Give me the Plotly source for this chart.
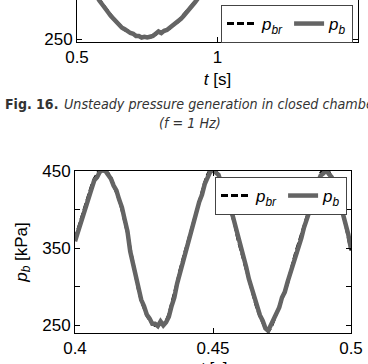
import plotly.graph_objects as go

# ---------------- data ----------------
# upper panel (f = 1 Hz), only its lower part is visible
t_top = [0.50, 0.52, 0.54, 0.56, 0.57, 0.58, 0.59, 0.60, 0.61, 0.62, 0.63, 0.64,
         0.65, 0.66, 0.67, 0.68, 0.69, 0.70, 0.71, 0.72, 0.73, 0.74, 0.75, 0.76,
         0.77, 0.78, 0.79, 0.80, 0.81, 0.82, 0.83, 0.84, 0.85, 0.86, 0.87, 0.88,
         0.89, 0.90, 0.91, 0.92, 0.93, 0.94, 0.95, 0.96, 0.98, 1.00, 1.05, 1.10,
         1.15, 1.20, 1.25, 1.30, 1.35, 1.40, 1.45, 1.50]
pb_top = [350, 337, 325, 314, 307, 301, 296, 290, 286, 281, 277, 272,
          268, 265, 263, 260, 258, 257, 254, 254, 252, 253, 252, 253,
          254, 257, 260, 258, 261, 262, 265, 267, 270, 274, 277, 281,
          285, 290, 294, 299, 304, 310, 316, 322, 337, 350, 381, 409,
          431, 445, 450, 445, 431, 409, 381, 350]
pbr_top = [351, 338, 326, 315, 308, 302, 297, 291, 287, 282, 277, 273,
           269, 266, 262, 261, 259, 256, 255, 253, 253, 252, 253, 252,
           255, 256, 258, 259, 260, 263, 264, 268, 271, 273, 278, 282,
           286, 291, 295, 300, 305, 311, 317, 323, 338, 351, 382, 410,
           432, 446, 451, 446, 432, 410, 382, 351]

# lower panel
t_low = [0.400, 0.401, 0.402, 0.403, 0.404, 0.405, 0.406, 0.407, 0.408, 0.409,
         0.410, 0.411, 0.412, 0.413, 0.414, 0.415, 0.416, 0.417, 0.418, 0.419,
         0.420, 0.421, 0.422, 0.423, 0.424, 0.425, 0.426, 0.427, 0.428, 0.429,
         0.430, 0.431, 0.432, 0.433, 0.434, 0.435, 0.436, 0.437, 0.438, 0.439,
         0.440, 0.441, 0.442, 0.443, 0.444, 0.445, 0.446, 0.447, 0.448, 0.449,
         0.450, 0.451, 0.452, 0.453, 0.454, 0.455, 0.456, 0.457, 0.458, 0.459,
         0.460, 0.461, 0.462, 0.463, 0.464, 0.465, 0.466, 0.467, 0.468, 0.469,
         0.470, 0.471, 0.472, 0.473, 0.474, 0.475, 0.476, 0.477, 0.478, 0.479,
         0.480, 0.481, 0.482, 0.483, 0.484, 0.485, 0.486, 0.487, 0.488, 0.489,
         0.490, 0.491, 0.492, 0.493, 0.494, 0.495, 0.496, 0.497, 0.498, 0.499,
         0.500]
pb_low = [359, 371, 381, 396, 404, 419, 427, 438, 442, 449,
          451, 450, 445, 440, 431, 425, 413, 403, 387, 372,
          346, 329, 310, 298, 283, 275, 264, 259, 252, 252,
          249, 255, 250, 254, 261, 275, 286, 304, 317, 334,
          342, 357, 368, 383, 395, 410, 419, 433, 441, 449,
          451, 448, 445, 434, 428, 417, 408, 394, 381, 363,
          352, 338, 326, 310, 298, 282, 275, 263, 256, 246,
          243, 250, 257, 267, 273, 286, 293, 306, 317, 332,
          342, 354, 363, 377, 387, 398, 409, 424, 434, 444,
          447, 451, 446, 442, 432, 423, 409, 397, 382, 368,
          349]
pbr_low = [362, 374, 385, 397, 409, 420, 431, 440, 447, 452,
           454, 451, 447, 441, 431, 423, 413, 400, 386, 370,
           349, 330, 310, 296, 282, 272, 263, 257, 252, 250,
           251, 252, 251, 255, 264, 277, 290, 305, 321, 335,
           347, 359, 372, 384, 398, 412, 424, 435, 445, 452,
           453, 450, 444, 436, 426, 417, 405, 393, 379, 362,
           349, 336, 323, 309, 295, 282, 271, 262, 254, 246,
           242, 247, 256, 265, 273, 284, 294, 304, 318, 333,
           345, 356, 367, 379, 391, 401, 413, 426, 438, 447,
           452, 453, 449, 441, 433, 421, 409, 395, 381, 365,
           347]

x_ticks_top = [0.5, 1.0, 1.5]
x_labels_top = ["0.5", "1", "1.5"]
y_ticks_top = [250]
y_labels_top = ["250"]
x_ticks_low = [0.4, 0.45, 0.5]
x_labels_low = ["0.4", "0.45", "0.5"]
y_ticks_low = [250, 350, 450]
y_labels_low = ["250", "350", "450"]
y_minor_low = [300, 400]

name_br = "<i>p</i><sub><i>br</i></sub>"
name_b = "<i>p</i><sub><i>b</i></sub>"

# ---------------- figure ----------------
W, H = 368, 364
def px(x):
    return x / W
def py(y):
    return 1 - y / H

FONT = "Liberation Sans, Arial, sans-serif"
CAP = "DejaVu Sans Condensed, DejaVu Sans, sans-serif"
GREY = "#646464"

fig = go.Figure()
fig.add_trace(go.Scatter(x=t_top, y=pbr_top, mode="lines", name=name_br,
                         line=dict(color="black", width=3, dash="7px,3px"),
                         xaxis="x", yaxis="y", legend="legend2"))
fig.add_trace(go.Scatter(x=t_top, y=pb_top, mode="lines", name=name_b,
                         line=dict(color=GREY, width=4.5),
                         xaxis="x", yaxis="y", legend="legend2"))
fig.add_trace(go.Scatter(x=t_low, y=pbr_low, mode="lines", name=name_br,
                         line=dict(color="black", width=3, dash="7px,3px"),
                         xaxis="x2", yaxis="y2", legend="legend"))
fig.add_trace(go.Scatter(x=t_low, y=pb_low, mode="lines", name=name_b,
                         line=dict(color=GREY, width=4.5),
                         xaxis="x2", yaxis="y2", legend="legend"))

axis_common = dict(showgrid=False, zeroline=False, showline=True, linecolor="black",
                   linewidth=1, ticks="inside", ticklen=5, tickcolor="black",
                   tickfont=dict(family=FONT, size=17, color="black"))

fig.update_layout(
    width=W, height=H, autosize=False,
    margin=dict(l=0, r=0, t=0, b=0),
    paper_bgcolor="white", plot_bgcolor="white",
    font=dict(family=FONT, size=17, color="black"),
    xaxis=dict(domain=[px(77), px(358)], range=[0.5, 1.5], anchor="y",
               tickvals=x_ticks_top, ticktext=x_labels_top, mirror=False,
               title=dict(text="<i>t</i> [s]", standoff=6,
                          font=dict(family=FONT, size=17)),
               automargin=False, **axis_common),
    yaxis=dict(domain=[py(42), 1], range=[246, 302], anchor="x",
               tickvals=y_ticks_top, ticktext=y_labels_top, mirror="ticks",
               automargin=False, **axis_common),
    xaxis2=dict(domain=[px(75), px(351)], range=[0.4, 0.5], anchor="y2",
                tickvals=x_ticks_low, ticktext=x_labels_low, mirror="ticks",
                automargin=False, **axis_common),
    yaxis2=dict(domain=[py(333), py(171)], range=[240, 450], anchor="x2",
                tickvals=y_ticks_low, ticktext=y_labels_low, mirror="ticks",
                minor=dict(tickmode="array", tickvals=y_minor_low, ticks="inside",
                           ticklen=5, tickcolor="black"),
                title=dict(text="<i>p</i><sub><i>b</i></sub> [kPa]", standoff=10,
                           font=dict(family=FONT, size=17)),
                automargin=False, **axis_common),
    legend=dict(orientation="h", x=px(347), xanchor="right", y=py(177), yanchor="top",
                bgcolor="white", bordercolor="#444444", borderwidth=1,
                font=dict(family=FONT, size=17, color="black"),
                traceorder="normal"),
    legend2=dict(orientation="h", x=px(353), xanchor="right", y=py(5), yanchor="top",
                 bgcolor="white", bordercolor="#444444", borderwidth=1,
                 font=dict(family=FONT, size=17, color="black"),
                 traceorder="normal"),
    showlegend=True,
)

# lower x-axis title (only its top part is inside the picture)
fig.add_annotation(text="<i>t</i> [s]", xref="paper", yref="paper",
                   x=px(213), y=py(357), xanchor="center", yanchor="top",
                   showarrow=False, font=dict(family=FONT, size=17, color="black"))

fig.add_annotation(text="<b>Fig. 16.</b>", xref="paper", yref="paper",
                   x=px(3), y=py(104), xanchor="left", yanchor="middle",
                   showarrow=False, font=dict(family=CAP, size=14, color="#333333"))
fig.add_annotation(text="<i>Unsteady pressure generation in closed chamber</i>",
                   xref="paper", yref="paper", x=px(62), y=py(104),
                   xanchor="left", yanchor="middle", showarrow=False,
                   font=dict(family=CAP, size=14.2, color="#333333"))
fig.add_annotation(text="<i>(f = 1 Hz)</i>", xref="paper", yref="paper",
                   x=px(190), y=py(123), xanchor="center", yanchor="middle",
                   showarrow=False, font=dict(family=CAP, size=14.2, color="#333333"))

fig.write_html("out.html")
